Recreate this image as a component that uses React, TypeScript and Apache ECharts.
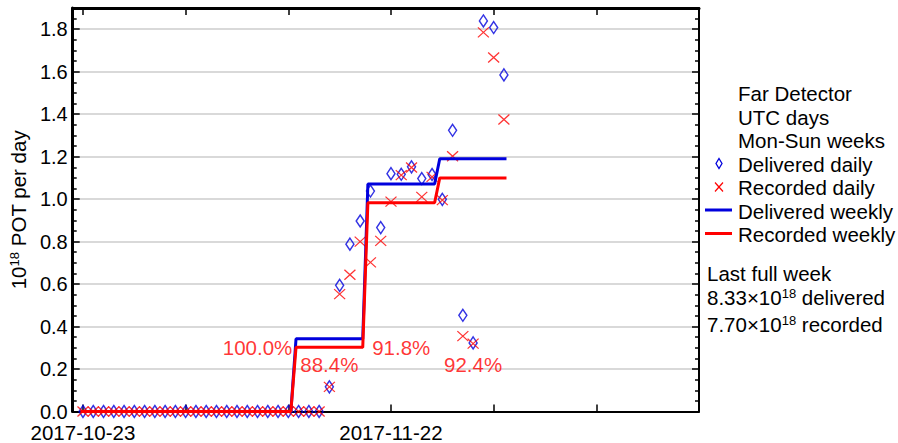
import React, { useEffect, useRef } from 'react';
import * as echarts from 'echarts';

// ---- data ----
const startDate = '2017-10-23';
// daily values (10^18 POT), one per UTC day starting 2017-10-23
const deliveredDaily = [
  0, 0, 0, 0, 0, 0, 0, 0, 0, 0, 0, 0, 0, 0, 0, 0, 0, 0, 0, 0, 0, 0, 0, 0,
  0.116, 0.594, 0.788, 0.897, 1.038, 0.866, 1.12, 1.117, 1.152, 1.097, 1.116,
  0.999, 1.324, 0.453, 0.323, 1.839, 1.808, 1.585,
];
const recordedDaily = [
  0, 0, 0, 0, 0, 0, 0, 0, 0, 0, 0, 0, 0, 0, 0, 0, 0, 0, 0, 0, 0, 0, 0, 0,
  0.116, 0.553, 0.644, 0.8, 0.702, 0.803, 0.988, 1.113, 1.149, 1.011, 1.105,
  0.995, 1.202, 0.355, 0.32, 1.785, 1.667, 1.375,
];
// weekly averages (Mon-Sun weeks)
const deliveredWeekly = [0, 0, 0, 0.342, 1.071, 1.19];
const recordedWeekly = [0, 0, 0, 0.302, 0.983, 1.1];
// efficiency labels
const effWeeks = [2, 3, 4, 5];
const effLabels = ['100.0%', '88.4%', '91.8%', '92.4%'];
const effLabelY = [0.3, 0.22, 0.3, 0.22];
// axis ticks
const yMajorTicks = [0, 0.2, 0.4, 0.6, 0.8, 1.0, 1.2, 1.4, 1.6, 1.8];
const xTickDays = [0, 10, 20, 30, 40, 50];
const xLabelDays = [0, 30];
const legendLines = ['Far Detector', 'UTC days', 'Mon-Sun weeks', 'Delivered daily', 'Recorded daily', 'Delivered weekly', 'Recorded weekly'];
const lastWeekDelivered = '8.33';
const lastWeekRecorded = '7.70';

const BLUE = '#0000dd';
const RED = '#ff0000';
const FONT = 'Liberation Sans, Arial, sans-serif';
const FS = 20.5;

function weeklySteps(vals: number[]) {
  const pts: number[][] = [];
  vals.forEach((v, w) => {
    pts.push([w * 7 - 0.25, v]);
    pts.push([w * 7 + 6 + 0.25, v]);
  });
  return pts;
}

function fmtDate(d: number) {
  const t = new Date(startDate + 'T00:00:00Z').getTime() + d * 86400000;
  return new Date(t).toISOString().slice(0, 10);
}

const yMinorTicks: number[] = [];
for (let i = 1; i <= 38; i++) {
  if (i % 4 !== 0) yMinorTicks.push(+(i * 0.05).toFixed(2));
}

export default function App() {
  const ref = useRef<HTMLDivElement>(null);
  useEffect(() => {
    if (!ref.current) return;
    const chart = echarts.init(ref.current, null, { renderer: 'svg' });
    const axisCommonY = {
      type: 'value' as const,
      min: 0,
      max: 1.9,
      interval: 0.2,
    };
    const supRich = { s: { fontSize: 13, verticalAlign: 'top', fontFamily: FONT, color: '#000' } };
    const option: any = {
      animation: false,
      backgroundColor: '#ffffff',
      textStyle: { fontFamily: FONT },
      grid: { left: 72, right: 199, top: 8, bottom: 29, containLabel: false },
      xAxis: [
        {
          type: 'value',
          position: 'bottom',
          min: -1,
          max: 60,
          axisLine: { onZero: false, lineStyle: { color: '#000', width: 2 } },
          axisTick: { inside: true, length: 7, customValues: xTickDays, lineStyle: { color: '#000', width: 1.5 } },
          axisLabel: {
            customValues: xLabelDays,
            formatter: (v: number) => fmtDate(v),
            color: '#000',
            fontSize: FS,
            fontFamily: FONT,
            lineHeight: 20,
            margin: 11,
          },
          splitLine: { show: false },
        },
        {
          type: 'value',
          position: 'top',
          min: -1,
          max: 60,
          axisLine: { onZero: false, lineStyle: { color: '#000', width: 3 } },
          axisTick: { inside: true, length: 7, customValues: xTickDays, lineStyle: { color: '#000', width: 1.5 } },
          axisLabel: { show: false },
          splitLine: { show: false },
        },
      ],
      yAxis: [
        {
          ...axisCommonY,
          position: 'left',
          name: '10{s|18} POT per day',
          nameLocation: 'middle',
          nameRotate: 90,
          nameGap: 33,
          nameTextStyle: {
            fontSize: FS,
            color: '#000',
            fontFamily: FONT,
            rich: supRich,
          },
          axisLine: { onZero: false, lineStyle: { color: '#000', width: 3 } },
          axisTick: { inside: true, length: 7, customValues: yMajorTicks, lineStyle: { color: '#000', width: 1.5 } },
          axisLabel: {
            customValues: yMajorTicks,
            formatter: (v: number) => v.toFixed(1),
            color: '#000',
            fontSize: 20,
            fontFamily: FONT,
            lineHeight: 16,
            margin: 5,
          },
          splitLine: { show: true, lineStyle: { color: '#cccccc', width: 1.5 } },
        },
        {
          ...axisCommonY,
          position: 'left',
          axisLine: { show: false, onZero: false },
          axisTick: { inside: true, length: 4, customValues: yMinorTicks, lineStyle: { color: '#000', width: 1.5 } },
          axisLabel: { show: false },
          splitLine: { show: false },
        },
        {
          ...axisCommonY,
          position: 'right',
          axisLine: { onZero: false, lineStyle: { color: '#000', width: 2 } },
          axisTick: { inside: true, length: 7, customValues: yMajorTicks, lineStyle: { color: '#000', width: 1.5 } },
          axisLabel: { show: false },
          splitLine: { show: false },
        },
        {
          ...axisCommonY,
          position: 'right',
          axisLine: { show: false, onZero: false },
          axisTick: { inside: true, length: 4, customValues: yMinorTicks, lineStyle: { color: '#000', width: 1.5 } },
          axisLabel: { show: false },
          splitLine: { show: false },
        },
      ],
      series: [
        {
          name: 'Delivered daily',
          type: 'scatter',
          data: deliveredDaily.map((v, i) => [i, v]),
          symbol: 'diamond',
          symbolSize: [8, 12],
          itemStyle: { color: 'rgba(255,255,255,0)', borderColor: BLUE, borderWidth: 1.5 },
          clip: false,
          z: 2,
        },
        {
          name: 'Recorded daily',
          type: 'scatter',
          data: recordedDaily.map((v, i) => [i, v]),
          symbol: 'path://M0,0L10,10M10,0L0,10',
          symbolSize: [11, 10],
          itemStyle: { color: 'rgba(255,255,255,0)', borderColor: RED, borderWidth: 1.2 },
          clip: false,
          z: 3,
        },
        {
          name: 'Delivered weekly',
          type: 'line',
          data: weeklySteps(deliveredWeekly),
          showSymbol: false,
          symbol: 'none',
          lineStyle: { color: BLUE, width: 3 },
          z: 4,
        },
        {
          name: 'Recorded weekly',
          type: 'line',
          data: weeklySteps(recordedWeekly),
          showSymbol: false,
          symbol: 'none',
          lineStyle: { color: RED, width: 3 },
          z: 5,
        },
        {
          name: 'eff',
          type: 'scatter',
          data: effWeeks.map((w, i) => [w * 7 + 3, effLabelY[i], effLabels[i]]),
          symbolSize: 1,
          itemStyle: { color: 'rgba(255,255,255,0)' },
          label: {
            show: true,
            position: 'inside',
            formatter: (p: any) => p.value[2],
            color: RED,
            fontSize: FS,
            fontFamily: FONT,
          },
          z: 6,
        },
      ],
      graphic: [
        ...legendLines.map((t, i) => ({
          type: 'text',
          left: 738,
          top: 83 + i * 23.5,
          style: { text: t, fontSize: FS, fontFamily: FONT, fill: '#000' },
        })),
        {
          type: 'polygon',
          shape: { points: [[719, 158.5], [722, 163.5], [719, 168.5], [716, 163.5]] },
          style: { fill: 'none', stroke: BLUE, lineWidth: 1.3 },
        },
        {
          type: 'line',
          shape: { x1: 715, y1: 182.5, x2: 723, y2: 191.5 },
          style: { stroke: RED, lineWidth: 1.2 },
        },
        {
          type: 'line',
          shape: { x1: 723, y1: 182.5, x2: 715, y2: 191.5 },
          style: { stroke: RED, lineWidth: 1.2 },
        },
        {
          type: 'line',
          shape: { x1: 705, y1: 210, x2: 732, y2: 210 },
          style: { stroke: BLUE, lineWidth: 3 },
        },
        {
          type: 'line',
          shape: { x1: 705, y1: 233.5, x2: 732, y2: 233.5 },
          style: { stroke: RED, lineWidth: 3 },
        },
        {
          type: 'text',
          left: 707,
          top: 263,
          style: { text: 'Last full week', fontSize: FS, fontFamily: FONT, fill: '#000' },
        },
        {
          type: 'text',
          left: 707,
          top: 287,
          style: {
            text: lastWeekDelivered + '×10{s|18} delivered',
            fontSize: FS,
            fontFamily: FONT,
            fill: '#000',
            rich: { s: { fontSize: 13, verticalAlign: 'top', fontFamily: FONT, fill: '#000' } },
          },
        },
        {
          type: 'text',
          left: 707,
          top: 314,
          style: {
            text: lastWeekRecorded + '×10{s|18} recorded',
            fontSize: FS,
            fontFamily: FONT,
            fill: '#000',
            rich: { s: { fontSize: 13, verticalAlign: 'top', fontFamily: FONT, fill: '#000' } },
          },
        },
      ],
    };
    chart.setOption(option);
    return () => chart.dispose();
  }, []);
  return <div ref={ref} style={{ position: 'fixed', left: 0, top: 0, width: 898, height: 443 }} />;
}
